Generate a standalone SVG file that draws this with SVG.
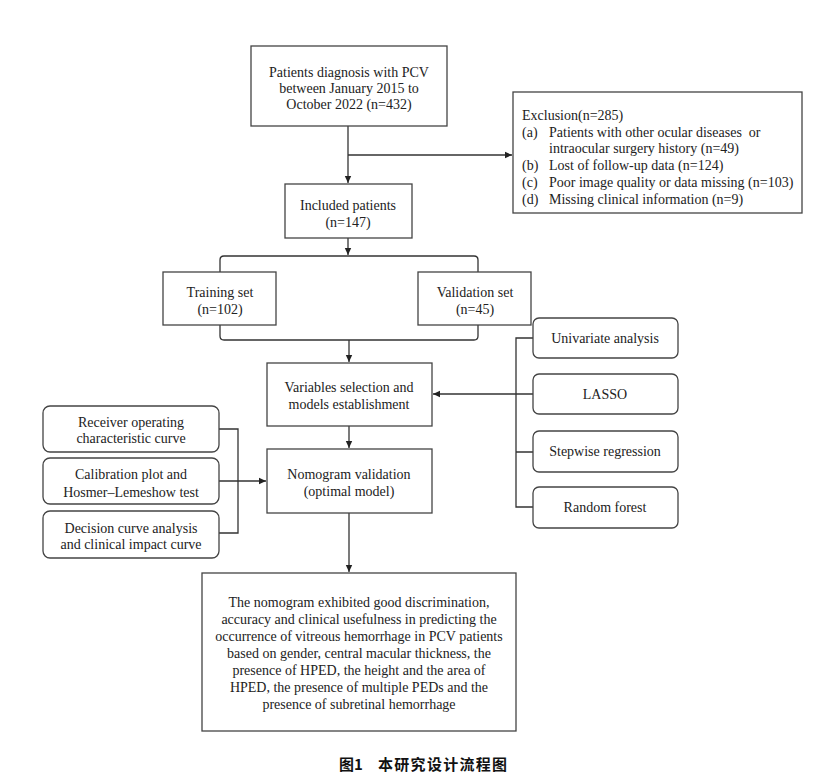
<svg xmlns="http://www.w3.org/2000/svg" width="836" height="781" viewBox="0 0 836 781">
<defs>
<marker id="arr" markerUnits="userSpaceOnUse" markerWidth="8" markerHeight="8" refX="7" refY="4" orient="auto">
<path d="M0,0.8 L7,4 L0,7.2 z" fill="#222"/>
</marker>
<style>
.box{fill:#fff;stroke:#444;stroke-width:1.3}
.ln{fill:none;stroke:#333;stroke-width:1.3}
.t{font-family:"Liberation Serif","Times New Roman",serif;font-size:14px;fill:#222;text-anchor:middle}
.tl{font-family:"Liberation Serif","Times New Roman",serif;font-size:14px;fill:#222}
.cap{font-family:"Noto Sans CJK SC","Noto Sans CJK JP",sans-serif;font-size:15px;font-weight:bold;fill:#111}
</style>
</defs>
<rect width="836" height="781" fill="#fff"/>
<g id="connectors">
<path class="ln" d="M348,126 V183" marker-end="url(#arr)"/>
<path class="ln" d="M348,155 H512" marker-end="url(#arr)"/>
<path class="ln" d="M348,238 V255" marker-end="url(#arr)"/>
<path class="ln" d="M220,272 V260 Q220,256 224,256 H474 Q478,256 478,260 V272"/>
<path class="ln" d="M220,325 V336 Q220,340 224,340 H474 Q478,340 478,336 V325"/>
<path class="ln" d="M349,340 V362" marker-end="url(#arr)"/>
<path class="ln" d="M349,426 V448" marker-end="url(#arr)"/>
<path class="ln" d="M533,394 H433" marker-end="url(#arr)"/>
<path class="ln" d="M533,338 H516 V507 H533 M516,452 H533"/>
<path class="ln" d="M219,429 H238 V533 H219"/>
<path class="ln" d="M219,481 H266" marker-end="url(#arr)"/>
<path class="ln" d="M349,513 V572" marker-end="url(#arr)"/>
</g>
<g id="n-patients">
<rect class="box" x="251" y="46" width="196" height="80"/>
<text class="t" x="349" y="77">Patients diagnosis with PCV</text>
<text class="t" x="349" y="93">between January 2015 to</text>
<text class="t" x="349" y="109">October 2022 (n=432)</text>
</g>
<g id="n-exclusion">
<rect class="box" x="513" y="92" width="289" height="121"/>
<text class="tl" x="522" y="120">Exclusion(n=285)</text>
<text class="tl" x="522" y="137">(a)</text><text class="tl" x="549" y="137" style="white-space:pre">Patients with other ocular diseases  or</text>
<text class="tl" x="549" y="153">intraocular surgery history (n=49)</text>
<text class="tl" x="522" y="170">(b)</text><text class="tl" x="549" y="170">Lost of follow-up data (n=124)</text>
<text class="tl" x="522" y="187">(c)</text><text class="tl" x="549" y="187">Poor image quality or data missing (n=103)</text>
<text class="tl" x="522" y="204">(d)</text><text class="tl" x="549" y="204">Missing clinical information (n=9)</text>
</g>
<g id="n-included">
<rect class="box" x="285" y="184" width="127" height="54"/>
<text class="t" x="348" y="210">Included patients</text>
<text class="t" x="348" y="227">(n=147)</text>
</g>
<g id="n-training">
<rect class="box" x="163" y="272" width="113" height="53"/>
<text class="t" x="220" y="297">Training set</text>
<text class="t" x="220" y="314">(n=102)</text>
</g>
<g id="n-validation">
<rect class="box" x="418" y="272" width="113" height="53"/>
<text class="t" x="475" y="297">Validation set</text>
<text class="t" x="475" y="314">(n=45)</text>
</g>
<g id="n-variables">
<rect class="box" x="267" y="363" width="165" height="63"/>
<text class="t" x="349" y="392">Variables selection and</text>
<text class="t" x="349" y="409">models establishment</text>
</g>
<g id="n-nomogram">
<rect class="box" x="267" y="449" width="165" height="64"/>
<text class="t" x="349" y="479">Nomogram validation</text>
<text class="t" x="349" y="496">(optimal model)</text>
</g>
<g id="n-univariate">
<rect class="box" x="533" y="318" width="145" height="40" rx="6"/>
<text class="t" x="605" y="343">Univariate analysis</text>
</g>
<g id="n-lasso">
<rect class="box" x="533" y="374" width="145" height="40" rx="6"/>
<text class="t" x="605" y="399">LASSO</text>
</g>
<g id="n-stepwise">
<rect class="box" x="533" y="431" width="145" height="41" rx="6"/>
<text class="t" x="605" y="456">Stepwise regression</text>
</g>
<g id="n-random">
<rect class="box" x="533" y="487" width="145" height="41" rx="6"/>
<text class="t" x="605" y="512">Random forest</text>
</g>
<g id="n-roc">
<rect class="box" x="43" y="406" width="176" height="46" rx="7"/>
<text class="t" x="131" y="427">Receiver operating</text>
<text class="t" x="131" y="443">characteristic curve</text>
</g>
<g id="n-calibration">
<rect class="box" x="43" y="458" width="176" height="46" rx="7"/>
<text class="t" x="131" y="479">Calibration plot and</text>
<text class="t" x="131" y="497">Hosmer–Lemeshow test</text>
</g>
<g id="n-decision">
<rect class="box" x="43" y="511" width="176" height="47" rx="7"/>
<text class="t" x="131" y="533">Decision curve analysis</text>
<text class="t" x="131" y="549">and clinical impact curve</text>
</g>
<g id="n-result">
<rect class="box" x="202" y="573" width="314" height="158"/>
<text class="t" x="359" y="607">The nomogram exhibited good discrimination,</text>
<text class="t" x="359" y="624">accuracy and clinical usefulness in predicting the</text>
<text class="t" x="359" y="641">occurrence of vitreous hemorrhage in PCV patients</text>
<text class="t" x="359" y="658">based on gender, central macular thickness, the</text>
<text class="t" x="359" y="675">presence of HPED, the height and the area of</text>
<text class="t" x="359" y="692">HPED, the presence of multiple PEDs and the</text>
<text class="t" x="359" y="709">presence of subretinal hemorrhage</text>
</g>
<g id="caption">
<text class="cap" x="339" y="770">图1</text>
<text class="cap" x="378" y="770" letter-spacing="1.3">本研究设计流程图</text>
</g>
</svg>
